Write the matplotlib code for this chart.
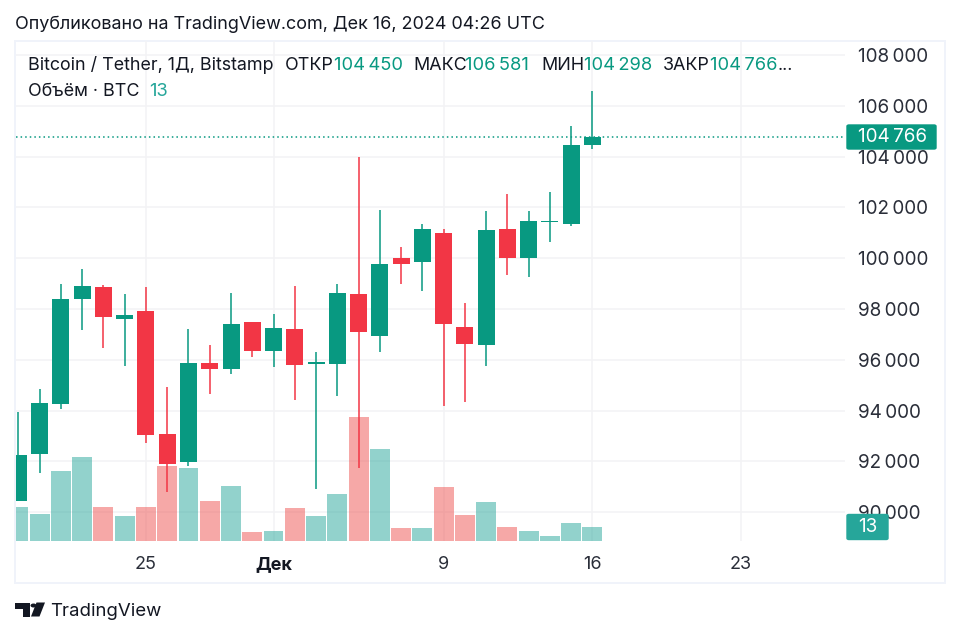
import matplotlib
matplotlib.use("Agg")
import matplotlib.pyplot as plt
import matplotlib.dates as mdates
from matplotlib.patches import FancyBboxPatch, Polygon, Rectangle
import pandas as pd

plt.rcParams['font.family'] = ['Inter', 'DejaVu Sans']

# --- DATA ---
dates = pd.date_range("2024-11-19", "2024-12-16")
opens = [90448, 92299, 94244, 98403, 98864, 97616, 97919, 93088, 91972, 95858, 95635, 97473, 96356, 97210,
         95850, 95844, 98575, 96921, 99993, 99835, 100990, 97275, 96593, 101160, 99993, 101424, 101332, 104450]
highs = [93929, 94847, 98970, 99560, 98943, 98602, 98851, 94939, 97210, 96580, 98628, 97500, 97801, 98903,
         96292, 98994, 103995, 101883, 100426, 101332, 101135, 98246, 101857, 102513, 101857, 102605, 105192, 106581]
lows = [90448, 91527, 94059, 97183, 96475, 95766, 92720, 90804, 91828, 94661, 95426, 96120, 95726, 94414,
        90921, 94583, 91736, 96316, 98994, 98706, 94178, 94322, 95766, 99324, 99245, 100648, 101266, 104298]
closes = [92260, 94284, 98391, 98903, 97669, 97773, 93049, 91880, 95858, 95635, 97407, 96356, 97237, 95792,
          95899, 98614, 97104, 99770, 99782, 101135, 97394, 96619, 101108, 99993, 101463, 101463, 104444, 104766]
volumes = [32.7, 26.2, 67.3, 81.2, 32.7, 24, 32.7, 72.5, 70.2, 38.5, 53.4, 8.4, 9.4, 32,
           24, 45.3, 120, 88.7, 12.3, 12.3, 52.1, 24.9, 37.2, 12.9, 9.4, 4.9, 16.8, 13]

price_ticks = [90000, 92000, 94000, 96000, 98000, 100000, 102000, 104000, 106000, 108000]
date_ticks = ["2024-11-25", "2024-12-01", "2024-12-09", "2024-12-16", "2024-12-23"]
date_labels = ["25", "Дек", "9", "16", "23"]

last_price = 104766
last_volume = 13

GREEN = "#089981"
RED = "#F23645"
VOL_GREEN = "#26A69A"
VOL_RED = "#EF5350"
TEXT = "#131722"
AXIS_TEXT = "#2A2E39"
GRID = "#F3F3F5"
BORDER = "#F0F3FA"

W, H = 960, 637
fig = plt.figure(figsize=(W / 100, H / 100), dpi=100, facecolor="white")


def fx(px):
    return px / W


def fy(py):
    return 1 - py / H


def label(px, py, s, color=TEXT, size=12.9, **kw):
    return fig.text(fx(px), fy(py), s, color=color, fontsize=size, va="center", **kw)


def price_text(p):
    return f"{p // 1000}\u2009{p % 1000:03d}"


# panel frame
fig.add_artist(Rectangle((fx(15), fy(583)), fx(930), 542 / H, transform=fig.transFigure,
                         fc="none", ec=BORDER, lw=1.4, zorder=-1))

# price axes, 15..845 px wide and 41..541 px tall
ax = fig.add_axes([fx(15.5), fy(540.7), fx(829.5), 499.7 / H])
ax.set_facecolor("none")
ax.xaxis_date()
day0 = mdates.date2num(pd.Timestamp("2024-11-25"))
for s in ax.spines.values():
    s.set_visible(False)

x = mdates.date2num(dates)

# volume pane sits on the same time scale, height as a share of the axes
vol_scale = 485
vol_colors = [VOL_GREEN if c >= o else VOL_RED for o, c in zip(opens, closes)]
ax.bar(x, [v / vol_scale for v in volumes], width=0.94, color=vol_colors, alpha=0.5, lw=0,
       transform=ax.get_xaxis_transform(), zorder=1.5)

# candles
for xi, o, h, l, c in zip(x, opens, highs, lows, closes):
    col = GREEN if c >= o else RED
    ax.vlines(xi, l, h, color=col, lw=1.1, zorder=3)
    body = max(abs(c - o), 45)
    ax.bar(xi, body, bottom=min(o, c), width=0.8, color=col, lw=0, zorder=4)

ax.axhline(last_price, color=GREEN, lw=1.1, ls=(0, (1, 2)), zorder=2)

ax.set_xlim(day0 - 6.14, day0 + 32.89)
ax.set_ylim(88873, 108551)

ax.set_yticks(price_ticks)
ax.set_yticklabels([price_text(p) for p in price_ticks])
ax.yaxis.tick_right()
ax.set_xticks(mdates.date2num(pd.to_datetime(date_ticks)))
ax.set_xticklabels(date_labels)
ax.tick_params(axis="y", length=0, pad=9.5, labelsize=13.6, labelcolor=AXIS_TEXT)
ax.tick_params(axis="x", length=0, pad=11, labelsize=13, labelcolor=AXIS_TEXT)
ax.get_xticklabels()[1].set_fontweight("bold")
ax.get_xticklabels()[1].set_color(TEXT)
ax.grid(True, color=GRID, lw=1.1)
ax.set_axisbelow(True)

# last value badges
fig.add_artist(FancyBboxPatch((fx(847), fy(149)), fx(89), 24 / H, transform=fig.transFigure,
                              boxstyle="round,pad=0,rounding_size=0.002", fc=GREEN, ec=GREEN, lw=1, zorder=6))
label(858, 137, price_text(last_price), color="white", size=13.6, zorder=7)
fig.add_artist(FancyBboxPatch((fx(847), fy(539.5)), fx(41), 25 / H, transform=fig.transFigure,
                              boxstyle="round,pad=0,rounding_size=0.002", fc=VOL_GREEN, ec=VOL_GREEN, lw=1, zorder=6))
label(858, 527, str(last_volume), color="white", size=13.6, zorder=7)

# header and legend
label(15, 24, "Опубликовано на TradingView.com, Дек 16, 2024 04:26 UTC", size=12.95)
label(27.5, 65, "Bitcoin / Tether, 1Д, Bitstamp")
items = [(285, "ОТКР", 334, price_text(104450)), (413, "МАКС", 465, price_text(106581)),
         (541, "МИН", 584, price_text(104298)), (663, "ЗАКР", 710, price_text(104766))]
for x0, name, x1, val in items:
    label(x0, 65, name)
    label(x1, 65, val, color=GREEN, size=13.2)
label(778, 65, "...")
label(27.5, 91, "Объём · BTC")
label(149, 91, str(last_volume), color=VOL_GREEN, size=13.2)

# TradingView logo
logo = [[(15, 602.5), (30, 602.5), (30, 616.5), (23, 616.5), (23, 609), (15, 609)],
        [(36.5, 602.5), (45, 602.5), (39.5, 616.5), (31, 616.5)]]
for pts in logo:
    fig.add_artist(Polygon([(fx(a), fy(b)) for a, b in pts], transform=fig.transFigure, fc=TEXT, ec="none"))
fig.add_artist(plt.Circle((fx(33.5), fy(605.5)), 3 / W, transform=fig.transFigure, fc=TEXT, ec="none"))
label(50.5, 611.5, "TradingView", size=13.4)

fig.savefig("out.png", dpi=100)
